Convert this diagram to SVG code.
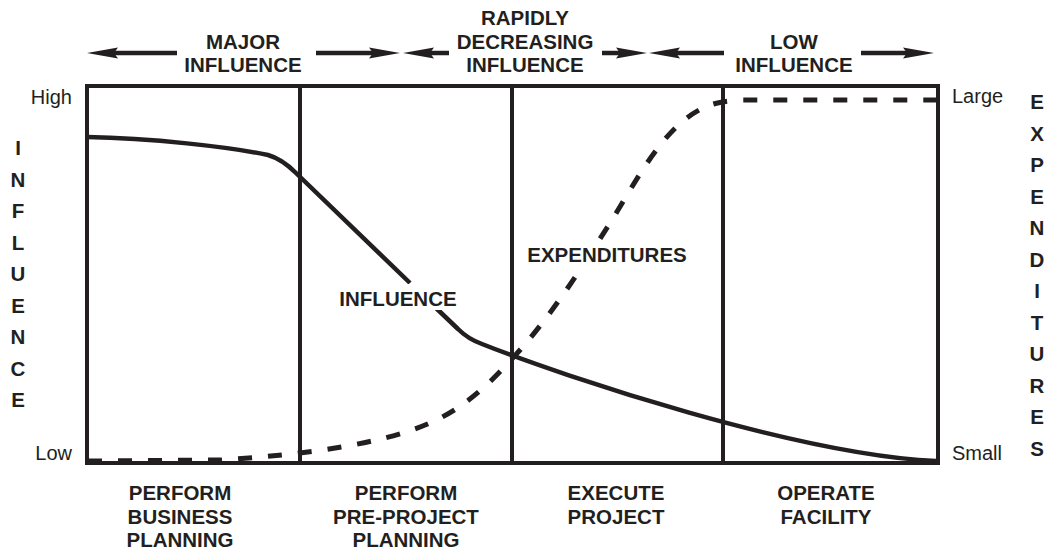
<svg xmlns="http://www.w3.org/2000/svg" xmlns:xlink="http://www.w3.org/1999/xlink" width="1048" height="550" viewBox="0 0 1048 550">
<style>
  .b{font-family:"Liberation Sans",Arial,Helvetica,sans-serif;font-weight:bold;font-size:20.5px;fill:#231f20;text-anchor:middle}
  .r{font-family:"Liberation Sans",Arial,Helvetica,sans-serif;font-size:20px;fill:#231f20}
  .frame{fill:none;stroke:#231f20;stroke-width:4}
  .inf{fill:none;stroke:#231f20;stroke-width:4.5;stroke-linejoin:round}
  .exp{fill:none;stroke:#231f20;stroke-width:5;stroke-dasharray:14 16}
  .arr{stroke:#231f20;stroke-width:4.5;fill:none}
  .head{fill:#231f20}
</style>
<defs>
  <path id="head" class="head" d="M0,0 L-31,-5.5 L-27,0 L-31,5.5 Z"/>
</defs>
<rect width="1048" height="550" fill="#ffffff"/>

<g id="chart-frame">
  <rect class="frame" x="87" y="86" width="851" height="377"/>
  <line class="frame" x1="300" y1="86" x2="300" y2="463"/>
  <line class="frame" x1="512" y1="86" x2="512" y2="463"/>
  <line class="frame" x1="723" y1="86" x2="723" y2="463"/>
</g>

<g id="influence-curve">
  <path class="inf" d="M87,137 C150,138 230,147 268,155 Q282,159 296,173 L410,283"/>
  <path class="inf" d="M436,308 L458,329 Q468,339 482,344 C565,377 800,455 936,461"/>
</g>

<g id="expenditures-curve">
  <path class="exp" d="M88,461 L220,460 C300,455 380,445 430,423 C470,405 495,378 520,350 C557,308 588,258 615,215 C645,165 670,120 710,105 Q722,101 740,100 L936,100"/>
</g>

<g id="label-influence">
  <rect x="334" y="284" width="128" height="26" fill="#ffffff"/>
  <text class="b" x="398" y="306">INFLUENCE</text>
</g>
<g id="label-expenditures">
  <rect x="522" y="241" width="170" height="26" fill="#ffffff"/>
  <text class="b" x="607" y="262">EXPENDITURES</text>
</g>

<g id="connectors">
  <line class="arr" x1="113" y1="53" x2="177" y2="53"/>
  <use xlink:href="#head" href="#head" transform="translate(87,53) scale(-1,1)"/>
  <line class="arr" x1="316" y1="53" x2="374" y2="53"/>
  <use xlink:href="#head" href="#head" transform="translate(400,53)"/>
  <line class="arr" x1="429" y1="53" x2="449" y2="53"/>
  <use xlink:href="#head" href="#head" transform="translate(403,53) scale(-1,1)"/>
  <line class="arr" x1="602" y1="53" x2="621" y2="53"/>
  <use xlink:href="#head" href="#head" transform="translate(647,53)"/>
  <line class="arr" x1="675" y1="53" x2="724" y2="53"/>
  <use xlink:href="#head" href="#head" transform="translate(649,53) scale(-1,1)"/>
  <line class="arr" x1="861" y1="53" x2="908" y2="53"/>
  <use xlink:href="#head" href="#head" transform="translate(934,53)"/>
</g>

<g id="zone-major">
  <text class="b" x="243" y="48.5">MAJOR</text>
  <text class="b" x="243" y="72">INFLUENCE</text>
</g>
<g id="zone-rapid">
  <text class="b" x="525" y="25">RAPIDLY</text>
  <text class="b" x="525" y="48.5">DECREASING</text>
  <text class="b" x="525" y="72">INFLUENCE</text>
</g>
<g id="zone-low">
  <text class="b" x="794" y="48.5">LOW</text>
  <text class="b" x="794" y="72">INFLUENCE</text>
</g>

<g id="axis-labels">
  <text class="r" x="72" y="104" text-anchor="end">High</text>
  <text class="r" x="72" y="460" text-anchor="end">Low</text>
  <text class="r" x="952" y="103">Large</text>
  <text class="r" x="952" y="460">Small</text>
</g>

<g id="axis-influence">
  <text class="b" x="18" y="155">I</text>
  <text class="b" x="18" y="187">N</text>
  <text class="b" x="18" y="218">F</text>
  <text class="b" x="18" y="250">L</text>
  <text class="b" x="18" y="281">U</text>
  <text class="b" x="18" y="313">E</text>
  <text class="b" x="18" y="344">N</text>
  <text class="b" x="18" y="376">C</text>
  <text class="b" x="18" y="407">E</text>
</g>

<g id="axis-expenditures">
  <text class="b" x="1037" y="109">E</text>
  <text class="b" x="1037" y="140.5">X</text>
  <text class="b" x="1037" y="172">P</text>
  <text class="b" x="1037" y="203.5">E</text>
  <text class="b" x="1037" y="235">N</text>
  <text class="b" x="1037" y="266.5">D</text>
  <text class="b" x="1037" y="298">I</text>
  <text class="b" x="1037" y="329.5">T</text>
  <text class="b" x="1037" y="361">U</text>
  <text class="b" x="1037" y="392.5">R</text>
  <text class="b" x="1037" y="424">E</text>
  <text class="b" x="1037" y="456">S</text>
</g>

<g id="phase-business">
  <text class="b" x="180" y="500">PERFORM</text>
  <text class="b" x="180" y="523.5">BUSINESS</text>
  <text class="b" x="180" y="547">PLANNING</text>
</g>
<g id="phase-preproject">
  <text class="b" x="406" y="500">PERFORM</text>
  <text class="b" x="406" y="523.5">PRE-PROJECT</text>
  <text class="b" x="406" y="547">PLANNING</text>
</g>
<g id="phase-execute">
  <text class="b" x="616" y="500">EXECUTE</text>
  <text class="b" x="616" y="523.5">PROJECT</text>
</g>
<g id="phase-operate">
  <text class="b" x="826" y="500">OPERATE</text>
  <text class="b" x="826" y="523.5">FACILITY</text>
</g>
</svg>
